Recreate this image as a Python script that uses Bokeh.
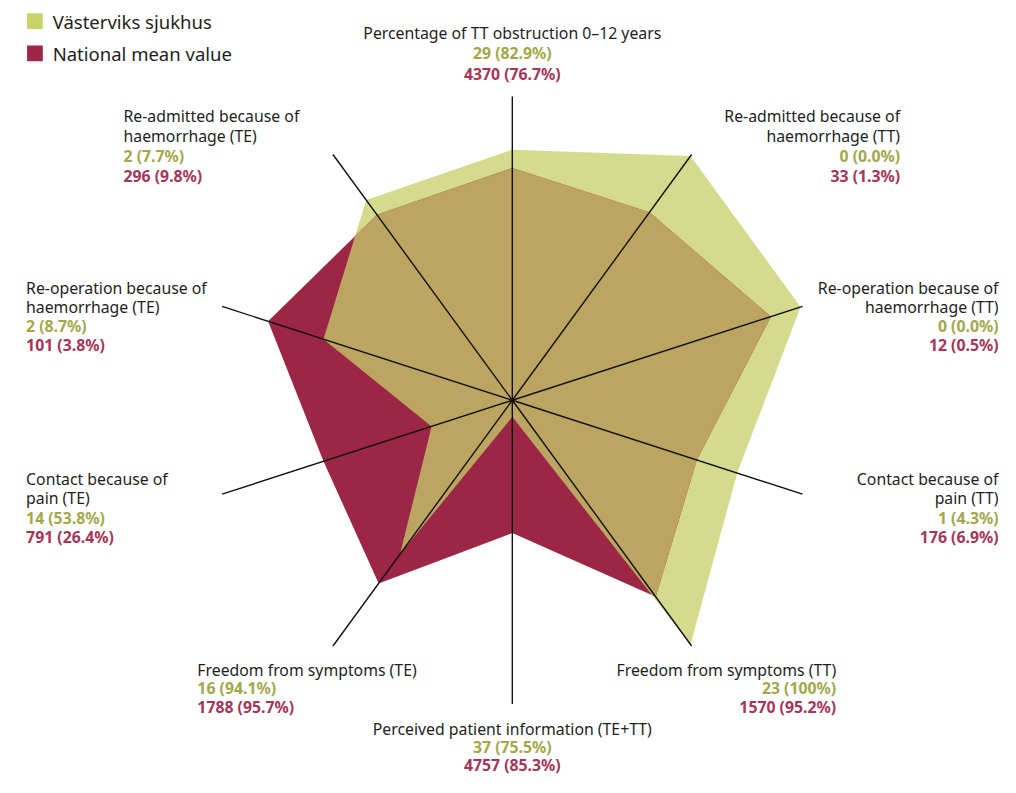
import numpy as np
from bokeh.plotting import figure
from bokeh.models import Range1d
from bokeh.core.properties import value
from bokeh.embed import file_html
from bokeh.resources import INLINE

# ---------------- data ----------------
categories = [
    ["Percentage of TT obstruction 0\u201312 years"],
    ["Re-admitted because of", "haemorrhage (TT)"],
    ["Re-operation because of", "haemorrhage (TT)"],
    ["Contact because of", "pain (TT)"],
    ["Freedom from symptoms (TT)"],
    ["Perceived patient information (TE+TT)"],
    ["Freedom from symptoms (TE)"],
    ["Contact because of", "pain (TE)"],
    ["Re-operation because of", "haemorrhage (TE)"],
    ["Re-admitted because of", "haemorrhage (TE)"],
]
hospital_text = ["29 (82.9%)", "0 (0.0%)", "0 (0.0%)", "1 (4.3%)", "23 (100%)",
                 "37 (75.5%)", "16 (94.1%)", "14 (53.8%)", "2 (8.7%)", "2 (7.7%)"]
national_text = ["4370 (76.7%)", "33 (1.3%)", "12 (0.5%)", "176 (6.9%)", "1570 (95.2%)",
                 "4757 (85.3%)", "1788 (95.7%)", "791 (26.4%)", "101 (3.8%)", "296 (9.8%)"]
# normalised scores as drawn (0 = centre, 1 = end of axis)
hospital_score = [0.83, 1.00, 1.00, 0.78, 1.00, 0.055, 0.63, 0.28, 0.655, 0.82]
national_score = [0.77, 0.77, 0.897, 0.64, 0.805, 0.44, 0.75, 0.655, 0.847, 0.76]
series_names = ["V\u00e4sterviks sjukhus", "National mean value"]

# ---------------- layout / style ----------------
W, H = 1000, 777
CX, CY, R = 520, 408, 308
AXIS_LEN = 310
FONT = value("Noto Sans")
GREEN_FILL = "#d4db8d"
MAROON_FILL = "#9c2645"
TAN_FILL = "#bca461"
GREEN_TXT = "#a2a84a"
MAROON_TXT = "#a63558"
LEG_GREEN = "#c9d16b"
LEG_MAROON = "#9e2646"
TXT = "#1e1e1e"
LABEL_SIZE = "15.8px"

# label anchors: (x, y of first line, align, line step)
label_layout = [
    (520, 33, "center", 21),
    (914, 118, "right", 20.5),
    (1014, 293, "right", 19.5),
    (1014, 488, "right", 20),
    (849, 683, "right", 19),
    (520, 743, "center", 18.5),
    (200, 683, "left", 19),
    (26, 488, "left", 20),
    (26, 293, "left", 19.5),
    (125, 118, "left", 20.5),
]

n = len(hospital_score)
theta = np.arange(n) * 2 * np.pi / n


def to_xy(r, t):
    return CX + r * R * np.sin(t), CY - r * R * np.cos(t)


def seg_intersect(p1, p2, p3, p4):
    x1, y1 = p1; x2, y2 = p2; x3, y3 = p3; x4, y4 = p4
    d = (x1 - x2) * (y3 - y4) - (y1 - y2) * (x3 - x4)
    if abs(d) < 1e-12:
        return None
    t = ((x1 - x3) * (y3 - y4) - (y1 - y3) * (x3 - x4)) / d
    return x1 + t * (x2 - x1), y1 + t * (y2 - y1)


g = np.array(hospital_score)
m = np.array(national_score)
gx, gy = to_xy(g, theta)
mx, my = to_xy(m, theta)

# inner envelope = overlap of the two radar polygons
ix, iy = [], []
for i in range(n):
    j = (i + 1) % n
    rmin = min(g[i], m[i])
    px, py = to_xy(rmin, theta[i])
    ix.append(px); iy.append(py)
    d1 = g[i] - m[i]
    d2 = g[j] - m[j]
    if d1 * d2 < 0:
        pt = seg_intersect((gx[i], gy[i]), (gx[j], gy[j]), (mx[i], my[i]), (mx[j], my[j]))
        if pt is not None:
            ix.append(pt[0]); iy.append(pt[1])

p = figure(width=W, height=H, output_backend="svg", toolbar_location=None,
           x_range=Range1d(0, 1016), y_range=Range1d(793, 0),
           x_axis_type=None, y_axis_type=None, min_border=0)
p.grid.visible = False
p.outline_line_color = None
p.background_fill_color = "white"

p.patch(list(gx), list(gy), fill_color=GREEN_FILL, line_color=None)
p.patch(list(mx), list(my), fill_color=MAROON_FILL, line_color=None)
p.patch(ix, iy, fill_color=TAN_FILL, line_color=None)

# axes
ex, ey = CX + AXIS_LEN * np.sin(theta), CY - AXIS_LEN * np.cos(theta)
p.segment(x0=[CX] * n, y0=[CY] * n, x1=list(ex), y1=list(ey),
          line_color="#111111", line_width=1.4)

# labels
for i in range(n):
    x, y0, align, step = label_layout[i]
    lines = categories[i]
    ys = [y0 + k * step for k in range(len(lines))]
    p.text(x=[x] * len(lines), y=ys, text=lines, text_font=FONT,
           text_font_size=LABEL_SIZE, text_color=TXT, text_align=align,
           text_baseline="middle")
    yv = y0 + len(lines) * step
    p.text(x=[x], y=[yv], text=[hospital_text[i]], text_font=FONT,
           text_font_size=LABEL_SIZE, text_font_style="bold", text_color=GREEN_TXT,
           text_align=align, text_baseline="middle")
    p.text(x=[x], y=[yv + step], text=[national_text[i]], text_font=FONT,
           text_font_size=LABEL_SIZE, text_font_style="bold", text_color=MAROON_TXT,
           text_align=align, text_baseline="middle")

# legend
p.rect(x=[35, 35], y=[21, 54], width=16, height=16,
       fill_color=[LEG_GREEN, LEG_MAROON], line_color=None)
p.text(x=[53, 53], y=[21, 54], text=series_names, text_font=FONT,
       text_font_size="18.5px", text_color=TXT, text_align="left",
       text_baseline="middle")

open("out.html", "w").write(file_html(p, INLINE))
